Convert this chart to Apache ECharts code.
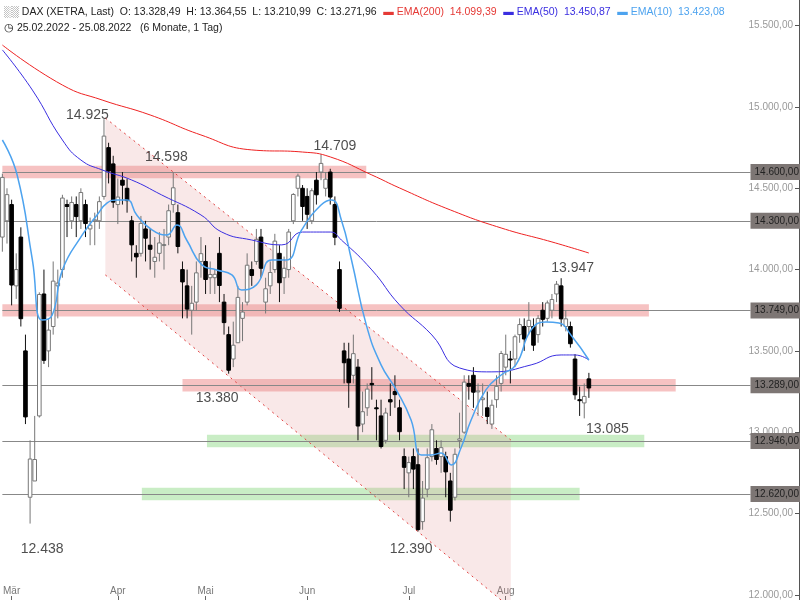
<!DOCTYPE html>
<html>
<head>
<meta charset="utf-8">
<script src="https://cdn.jsdelivr.net/npm/echarts@6/dist/echarts.min.js"></script>
<style>html,body{margin:0;padding:0;background:#fff}#chart{width:800px;height:600px}</style>
</head>
<body>
<div id="chart"></div>
<script>
// daily candles 25.02.2022 - 25.08.2022, [open, close, low, high], first one is index -2
var candles = [
    [14200,14567,14110,14590],[14300,14461,14160,14500],
    [14400,13905,13780,14430],[13900,14000,13820,14100],[14200,13698,13650,14260],[13500,13094,13050,13600],
    [12600,12835,12438,12950],[12700,12832,12700,13100],[13100,13847,13090,13860],[13850,13442,13420,14000],
    [13500,13628,13400,13700],[13650,13929,13600,14050],[13900,13917,13700,14000],[14000,14440,13950,14460],
    [14400,14388,14200,14430],[14300,14413,14250,14450],[14400,14326,14200,14450],[14300,14474,14250,14500],
    [14400,14283,14200,14430],[14250,14273,14150,14320],[14300,14306,14150,14350],[14300,14418,14250,14450],
    [14450,14821,14430,14925],[14750,14606,14530,14780],[14650,14415,14380,14700],
    [14400,14446,14280,14560],[14550,14519,14400,14600],[14500,14424,14350,14560],[14300,14152,14050,14330],
    [14100,14078,13950,14150],[14100,14284,14080,14330],[14250,14193,14050,14300],[14150,14125,14000,14250],
    [14050,14076,13950,14200],[14100,14164,14050,14230],[14150,14154,14000,14250],[14200,14362,14150,14400],
    [14400,14503,14350,14598],[14350,14142,14100,14400],[14000,13924,13700,14050],[13900,13757,13700,14000],
    [13750,13793,13600,13900],[13800,13980,13750,14050],[14050,14098,13950,14200],
    [14050,13939,13850,14150],[13950,13970,13850,14050],[13950,13971,13850,14000],[14100,13902,13800,14200],
    [13800,13674,13600,13850],[13600,13381,13360,13650],[13450,13535,13400,13680],[13550,13829,13550,13900],
    [13700,13739,13560,13800],[13800,14027,13780,14100],[14000,13964,13900,14050],[14050,14186,14030,14250],
    [14200,14008,13950,14250],[13800,13882,13730,13950],[13900,13982,13850,14050],[14000,14175,13980,14220],
    [14100,13919,13800,14150],[13950,14008,13850,14080],[14000,14231,13950,14250],[14300,14462,14280,14470],
    [14500,14575,14450,14590],[14500,14388,14300,14520],
    [14450,14340,14250,14500],[14300,14485,14280,14500],[14550,14460,14400,14600],[14600,14653,14550,14709],
    [14500,14556,14450,14600],[14600,14446,14400,14620],[14400,14199,14150,14450],[14000,13762,13740,14050],
    [13500,13427,13300,13550],[13450,13304,13150,13550],[13350,13483,13300,13600],[13400,13038,12950,13450],
    [13050,13126,13000,13250],[13150,13265,13100,13300],[13300,13292,13200,13400],[13150,13145,12950,13200],
    [13100,12912,12900,13200],[12950,13118,12930,13150],[13200,13186,13100,13300],[13250,13231,13150,13350],
    [13150,13003,12950,13200],[12850,12784,12650,12900],
    [12750,12813,12600,12850],[12850,12773,12650,12900],[12800,12401,12390,12900],[12450,12595,12400,12700],
    [12650,12843,12600,12900],[12850,13015,12820,13050],[12900,12832,12800,12950],[12850,12905,12750,12950],
    [12850,12756,12600,12880],[12700,12520,12450,12750],[12600,12864,12580,12900],[12950,12959,12900,13120],
    [13000,13308,12990,13350],[13300,13282,13200,13350],[13350,13246,13150,13400],[13250,13254,13100,13300],
    [13200,13210,13100,13300],[13150,13097,13050,13250],[13050,13166,13020,13200],[13200,13282,13150,13350],
    [13300,13484,13250,13500],
    [13400,13479,13350,13600],[13450,13449,13300,13500],[13450,13587,13400,13600],[13600,13662,13550,13700],
    [13650,13573,13500,13700],[13650,13688,13600,13800],[13650,13535,13500,13700],[13600,13700,13550,13720],
    [13750,13694,13650,13800],[13700,13795,13680,13810],[13750,13816,13700,13850],[13850,13910,13800,13930],
    [13900,13697,13650,13947],[13650,13697,13620,13750],[13650,13544,13520,13680],[13450,13230,13200,13480],
    [13200,13194,13100,13280],[13180,13220,13085,13300],[13328,13272,13211,13365]
];
var firstIndex = -2;

// indicator lines: [day index, value]
var ema200 = [[-2,15381],[11,15135],[19.6,15043],[30,14951],[41,14828],[52,14736],[63,14723],[69,14693],
    [78,14582],[84,14502],[95,14367],[106,14256],[117,14170],[125,14102]];
var ema50 = [[-2,15351],[4.5,15104],[11,14797],[15,14674],[19.6,14613],[26,14551],[32.5,14459],[41,14336],
    [45.5,14231],[52,14182],[58.5,14152],[63,14231],[69,14231],[71.4,14182],[78,13998],[84,13783],[91,13598],
    [97,13395],[104,13371],[112.5,13414],[119,13475],[122,13475],[125,13444]];
var ema10 = [[-2,14797],[1.2,14582],[4.5,14059],[6.6,13690],[8.8,13721],[11,13998],[15.3,14213],[18.5,14336],
    [20.7,14410],[22.8,14428],[25,14428],[27.1,14336],[30.4,14244],[33.6,14213],[35.8,14275],[37.9,14182],
    [41.2,14029],[44.4,13998],[47.7,13967],[49.8,13875],[53,13906],[56.3,14059],[59.5,14059],[62.8,14244],
    [67,14397],[69.3,14428],[71.4,14305],[73.6,14059],[76.8,13660],[80,13414],[83.3,13260],[86.5,13075],
    [88.7,12860],[90.9,12860],[93,12872],[95.2,12799],[97.3,12903],[99.5,13075],[102.7,13260],[106,13352],
    [109.2,13414],[112.5,13629],[115.7,13678],[118.5,13672],[121.1,13598],[125,13444]];

var levels = [14600, 14300, 13749, 13289, 12946, 12620];
// zones: [value, from index, to index]
var redZones = [[14600, -2, 76.8], [13749, -2, 138], [13289, 37, 143.8]];
var greenZones = [[12946, 42.3, 137], [12620, 28.2, 123]];
// falling channel
var channelTop = [[20.3,14932],[108.1,12952]];
var channelBottom = [[20.3,13967],[106,11968]];

var notes = [['14.925',16.4,14951],['14.598',33.5,14690],['14.709',70,14760],['13.380',44.5,13210],
    ['12.438',6.6,12280],['12.390',86.5,12280],['13.947',121.5,14010],['13.085',129,13020]];

var monthTicks = [0, 23, 42, 64, 86, 107];
var monthNames = ['Mär', 'Apr', 'Mai', 'Jun', 'Jul', 'Aug'];
var priceTicks = [12000, 12500, 13000, 13500, 14000, 14500, 15000, 15500];

function fmt(v) {
    return v.toLocaleString('de-DE', { minimumFractionDigits: 2, maximumFractionDigits: 2 });
}

var candleData = candles.map(function (c, i) { return [firstIndex + i].concat(c); });

var zoneAreas = function (list) {
    return list.map(function (z) {
        return [{ coord: [z[1], z[0] - 38] }, { coord: [z[2], z[0] + 38] }];
    });
};

var chart = echarts.init(document.getElementById('chart'));
chart.setOption({
    animation: false,
    grid: { left: 0, right: 1, top: 0, bottom: 0 },
    xAxis: {
        type: 'value', min: -2, max: 170.5,
        splitLine: { show: false },
        axisLine: { show: false },
        axisTick: { show: true, inside: true, length: 4, customValues: monthTicks, lineStyle: { color: '#666' } },
        axisLabel: {
            inside: true, customValues: monthTicks, color: '#777', fontSize: 10, margin: 4,
            formatter: function (v) { return monthNames[monthTicks.indexOf(v)]; }
        }
    },
    yAxis: {
        type: 'value', position: 'right', min: 11968, max: 15658,
        splitLine: { show: false },
        axisLine: { show: true, onZero: false, lineStyle: { color: '#555' } },
        axisTick: { show: true, inside: true, length: 4, customValues: priceTicks, lineStyle: { color: '#555' } },
        axisLabel: { inside: true, customValues: priceTicks, color: '#999', fontSize: 10, margin: 6, formatter: fmt }
    },
    graphic: [
        { type: 'text', left: 4, top: 6, style: { rich: {
            b: { fill: '#222', fontSize: 10.5, fontFamily: 'Arial' },
            r: { fill: '#e53935', fontSize: 10.5, fontFamily: 'Arial' },
            u: { fill: '#3a2ee0', fontSize: 10.5, fontFamily: 'Arial' },
            l: { fill: '#4da3ef', fontSize: 10.5, fontFamily: 'Arial' }
        }, text: '{b|\u2591\u2591 DAX (XETRA, Last)  O: 13.328,49  H: 13.364,55  L: 13.210,99  C: 13.271,96}  {r|\u25AC EMA(200)  14.099,39}  {u|\u25AC EMA(50)  13.450,87}  {l|\u25AC EMA(10)  13.423,08}' } },
        { type: 'text', left: 4, top: 23, style: { text: '\u25F7 25.02.2022 - 25.08.2022   (6 Monate, 1 Tag)', fill: '#222', fontSize: 10.5, fontFamily: 'Arial' } }
    ],
    series: [
        {
            type: 'custom', name: 'channel', z: 1, silent: true,
            data: [0],
            renderItem: function (params, api) {
                var p = [channelTop[0], channelTop[1], [channelTop[1][0], 11968], channelBottom[1], channelBottom[0]]
                    .map(function (d) { return api.coord(d); });
                return { type: 'group', children: [
                    { type: 'polygon', shape: { points: p }, style: { fill: 'rgba(226,140,140,0.2)' } },
                    { type: 'line', shape: { x1: p[0][0], y1: p[0][1], x2: p[1][0], y2: p[1][1] }, style: { stroke: '#e04040', lineWidth: 1, lineDash: [2, 4] } },
                    { type: 'line', shape: { x1: p[4][0], y1: p[4][1], x2: p[3][0], y2: p[3][1] }, style: { stroke: '#e04040', lineWidth: 1, lineDash: [2, 4] } }
                ] };
            }
        },
        {
            type: 'line', name: 'levels', data: [], z: 2,
            markArea: { silent: true, itemStyle: { color: 'rgba(236,120,120,0.45)' }, data: zoneAreas(redZones) }
        },
        {
            type: 'line', name: 'green', data: [], z: 2,
            markArea: { silent: true, itemStyle: { color: 'rgba(120,210,110,0.4)' }, data: zoneAreas(greenZones) },
            markLine: {
                silent: true, symbol: 'none',
                lineStyle: { color: '#888', type: 'solid', width: 1 },
                label: { position: 'end', distance: 0, color: '#222', fontSize: 10, backgroundColor: '#7d7674', padding: [3, 2, 3, 4],
                    formatter: function (p) { return fmt(p.value); } },
                data: levels.map(function (v) { return [{ coord: [-2, v] }, { coord: [160, v], value: v }]; })
            }
        },
        {
            type: 'custom', name: 'DAX', z: 5,
            data: candleData,
            renderItem: function (params, api) {
                var x = api.value(0), o = api.value(1), c = api.value(2), lo = api.value(3), hi = api.value(4);
                var top = api.coord([x, Math.max(o, c)]), bot = api.coord([x, Math.min(o, c)]);
                var h = api.coord([x, hi]), l = api.coord([x, lo]);
                var up = c >= o;
                return { type: 'group', children: [
                    { type: 'line', shape: { x1: h[0], y1: h[1], x2: l[0], y2: l[1] }, style: { stroke: up ? '#777' : '#111', lineWidth: 1 } },
                    { type: 'rect', shape: { x: top[0] - 1.8, y: top[1], width: 3.6, height: Math.max(1, bot[1] - top[1]) },
                        style: { fill: up ? '#fff' : '#000', stroke: up ? '#777' : '#000', lineWidth: 1 } }
                ] };
            }
        },
        { type: 'line', name: 'EMA(200)', data: ema200, smooth: true, showSymbol: false, z: 6, lineStyle: { color: '#ee2222', width: 1 } },
        { type: 'line', name: 'EMA(50)', data: ema50, smooth: true, showSymbol: false, z: 6, lineStyle: { color: '#3a2ee0', width: 1 } },
        { type: 'line', name: 'EMA(10)', data: ema10, smooth: true, showSymbol: false, z: 6, lineStyle: { color: '#4da3ef', width: 1.5 } },
        {
            type: 'scatter', name: 'notes', symbolSize: 0, z: 7,
            data: notes.map(function (n) { return { value: [n[1], n[2]], name: n[0] }; }),
            label: { show: true, position: 'inside', formatter: '{b}', color: '#222', fontSize: 14, fontFamily: 'Arial' }
        }
    ]
});
</script>
</body>
</html>
